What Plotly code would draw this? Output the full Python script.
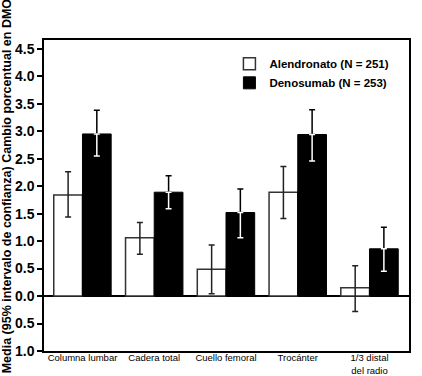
import plotly.graph_objects as go

categories = ["Columna lumbar", "Cadera total", "Cuello femoral", "Trocánter", "1/3 distal<br>del radio"]
alendronato = [1.84, 1.06, 0.49, 1.89, 0.15]
alen_hi = [2.26, 1.34, 0.93, 2.36, 0.55]
alen_lo = [1.44, 0.76, 0.04, 1.41, -0.28]
denosumab = [2.95, 1.89, 1.52, 2.94, 0.86]
deno_hi = [3.38, 2.19, 1.95, 3.39, 1.25]
deno_lo = [2.55, 1.59, 1.06, 2.46, 0.45]
ytick_vals = [-1.0, -0.5, 0.0, 0.5, 1.0, 1.5, 2.0, 2.5, 3.0, 3.5, 4.0, 4.5]
ytick_text = ["1.0", "0.5", "0.0", "0.5", "1.0", "1.5", "2.0", "2.5", "3.0", "3.5", "4.0", "4.5"]
y_title = "Media (95% intervalo de confianza) Cambio porcentual en DMO"

idx = list(range(len(categories)))
xa = [i - 0.2 for i in idx]
xd = [i + 0.2 for i in idx]

fig = go.Figure()
fig.add_trace(go.Bar(x=xa, y=alendronato, width=0.4, name="Alendronato (N = 251)",
                     marker=dict(color="white", line=dict(color="#333", width=1.5))))
fig.add_trace(go.Bar(x=xd, y=denosumab, width=0.4, name="Denosumab (N = 253)",
                     marker=dict(color="black", line=dict(color="black", width=1))))

fig.add_trace(go.Scatter(x=xa, y=alendronato, mode="markers", marker=dict(size=0.1, color="rgba(0,0,0,0)"),
                         showlegend=False, hoverinfo="skip",
                         error_y=dict(type="data", symmetric=False,
                                      array=[h - v for h, v in zip(alen_hi, alendronato)],
                                      arrayminus=[v - l for v, l in zip(alendronato, alen_lo)],
                                      color="#222", thickness=1.5, width=3)))
fig.add_trace(go.Scatter(x=xd, y=denosumab, mode="markers", marker=dict(size=0.1, color="rgba(0,0,0,0)"),
                         showlegend=False, hoverinfo="skip",
                         error_y=dict(type="data", symmetric=False,
                                      array=[h - v for h, v in zip(deno_hi, denosumab)],
                                      arrayminus=[0] * len(denosumab),
                                      color="black", thickness=1.5, width=3)))
fig.add_trace(go.Scatter(x=xd, y=denosumab, mode="markers", marker=dict(size=0.1, color="rgba(0,0,0,0)"),
                         showlegend=False, hoverinfo="skip",
                         error_y=dict(type="data", symmetric=False,
                                      array=[0] * len(denosumab),
                                      arrayminus=[v - l for v, l in zip(denosumab, deno_lo)],
                                      color="white", thickness=1.5, width=3)))

fig.update_layout(
    width=422, height=376,
    margin=dict(l=44, r=13, t=40, b=25, autoexpand=False),
    plot_bgcolor="white", paper_bgcolor="white",
    barmode="overlay",
    font=dict(family="Liberation Sans Narrow, Liberation Sans, sans-serif", color="black"),
    legend=dict(x=0.508, y=0.97, xanchor="left", yanchor="top", bgcolor="rgba(0,0,0,0)",
                font=dict(size=11.5, family="Liberation Sans Narrow, sans-serif", weight="bold"),
                itemwidth=30, tracegroupgap=0),
    xaxis=dict(range=[-0.536, 4.55], tickvals=idx, ticktext=categories, showgrid=False,
               ticks="", showline=True, linecolor="black", linewidth=1.5, mirror=True,
               tickfont=dict(size=9.5), zeroline=False, automargin=False, ticklabelstandoff=-3),
    yaxis=dict(range=[-1.0, 4.66], tickvals=ytick_vals, ticktext=ytick_text, showgrid=False,
               ticks="outside", ticklen=5, tickwidth=1.5, tickcolor="black",
               showline=True, linecolor="black", linewidth=1.5, mirror=True,
               zeroline=True, zerolinecolor="black", zerolinewidth=1.5,
               tickfont=dict(size=14, family="Liberation Sans, sans-serif", weight="bold"),
               automargin=False),
    annotations=[dict(text=y_title, textangle=-90, xref="paper", yref="paper",
                      x=-0.101, y=0.53, xanchor="center", yanchor="middle", showarrow=False,
                      font=dict(size=12.5, family="Liberation Sans Narrow, sans-serif", weight="bold"))],
)

fig.write_html("out.html", config={"displayModeBar": False},
               post_script="document.body.style.margin='0';document.body.style.overflow='hidden';")
